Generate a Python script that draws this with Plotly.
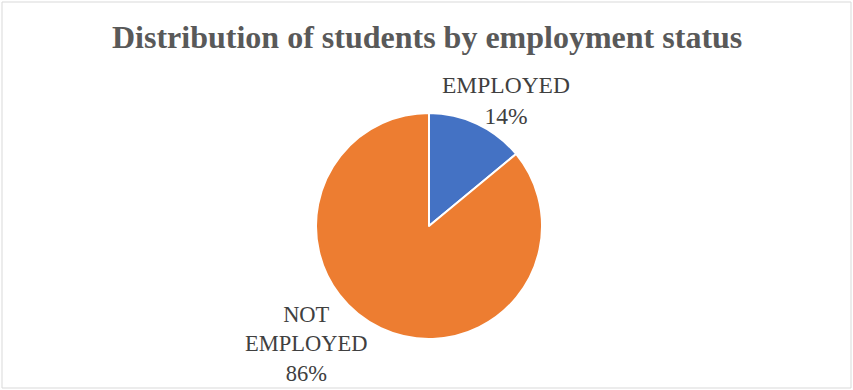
import plotly.graph_objects as go

labels = ["EMPLOYED", "NOT EMPLOYED"]
label_lines = ["EMPLOYED", "NOT<br>EMPLOYED"]
values = [14, 86]
colors = ["#4472C4", "#ED7D31"]
title = "Distribution of students by employment status"

W, H = 853, 390

fig = go.Figure()
fig.add_trace(go.Pie(
    labels=labels, values=values, sort=False, direction="clockwise",
    rotation=0, textinfo="none", hoverinfo="label+percent",
    marker=dict(colors=colors, line=dict(color="white", width=2)),
    domain=dict(x=[316/W, 542/W], y=[(H-339)/H, (H-113)/H]),
    showlegend=False,
))

total = sum(values)
pos = [(506, 101, 23.5), (306, 344, 22.5)]
for (px, py, fs), lab, v in zip(pos, label_lines, values):
    fig.add_annotation(
        x=px/W, y=1-py/H, xref="paper", yref="paper",
        text=f"{lab}<br>{round(100*v/total)}%", showarrow=False,
        xanchor="center", yanchor="middle",
        font=dict(family="Liberation Serif", size=fs, color="#404040"),
    )

fig.add_annotation(
    x=0.5, y=1-37/H, xref="paper", yref="paper", text=f"<b>{title}</b>",
    showarrow=False, xanchor="center", yanchor="middle",
    font=dict(family="Liberation Serif", size=32, color="#595959"),
)

fig.add_shape(type="rect", xref="paper", yref="paper",
              x0=2/W, x1=851/W, y0=1-388/H, y1=1-2/H,
              line=dict(color="#D9D9D9", width=1))

fig.update_layout(width=W, height=H, margin=dict(l=0, r=0, t=0, b=0),
                  paper_bgcolor="white", plot_bgcolor="white")
fig.write_html("out.html")
